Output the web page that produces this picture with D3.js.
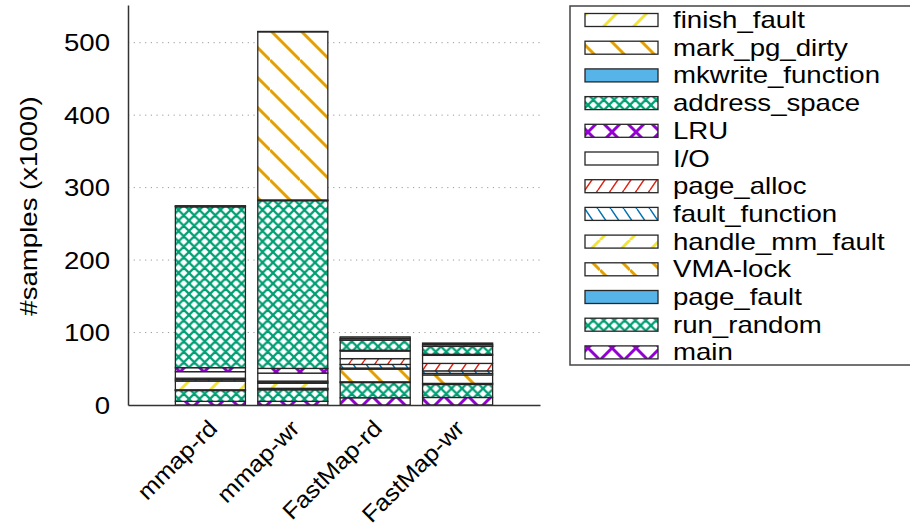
<!DOCTYPE html>
<html>
<head>
<meta charset="utf-8">
<script src="https://cdn.jsdelivr.net/npm/d3@7"></script>
<style>
  html, body { margin: 0; padding: 0; background: #fff; }
  svg { display: block; font-family: "Liberation Sans", Arial, Helvetica, sans-serif; }
</style>
</head>
<body>
<svg id="chart" width="910" height="532"></svg>
<script>
// Workloads on the x axis
const categories = ["mmap-rd", "mmap-wr", "FastMap-rd", "FastMap-wr"];

// Samples (x1000) per kernel path, stacked bottom to top
const main            = [5,    5,     10,   10.4];
const run_random      = [15,   16,    21,   18];
const page_fault      = [0.5,  1,     1,    1.4];
const vma_lock        = [0.5,  1,     17.5, 11.7];
const handle_mm_fault = [12,   7,     1.5,  2.1];
const fault_function  = [2,    1.5,   5,    3.5];
const page_alloc      = [2,    1.5,   8,    10.3];
const io              = [9,    11,    10.5, 11.1];
const lru             = [5.5,  6.5,   1,    1.4];
const address_space   = [222,  231.5, 14,   11];
const mkwrite_function= [1,    1,     0.5,  0.7];
const mark_pg_dirty   = [0,    232,   2,    2.1];
const finish_fault    = [0.5,  0.5,   2,    1.8];

const seriesNames = ["main", "run_random", "page_fault", "VMA-lock", "handle_mm_fault",
  "fault_function", "page_alloc", "I/O", "LRU", "address_space",
  "mkwrite_function", "mark_pg_dirty", "finish_fault"];
const seriesValues = [main, run_random, page_fault, vma_lock, handle_mm_fault,
  fault_function, page_alloc, io, lru, address_space,
  mkwrite_function, mark_pg_dirty, finish_fault];

const yTicks = [0, 100, 200, 300, 400, 500];

// Fill style for each series: pattern kind + colour
const styles = {
  "main":            {kind: "xsparse", color: "#9400d3"},
  "run_random":      {kind: "xdense",  color: "#009e73"},
  "page_fault":      {kind: "solid",   color: "#56b4e9"},
  "VMA-lock":        {kind: "bsparse", color: "#e69f00"},
  "handle_mm_fault": {kind: "fsparse", color: "#f0e442"},
  "fault_function":  {kind: "bdense",  color: "#0072b2"},
  "page_alloc":      {kind: "fdense",  color: "#e51e10"},
  "I/O":             {kind: "empty",   color: "#000000"},
  "LRU":             {kind: "xsparse", color: "#9400d3"},
  "address_space":   {kind: "xdense",  color: "#009e73"},
  "mkwrite_function":{kind: "solid",   color: "#56b4e9"},
  "mark_pg_dirty":   {kind: "bsparse", color: "#e69f00"},
  "finish_fault":    {kind: "fsparse", color: "#f0e442"}
};

const svg = d3.select("#chart");
const FONT = 23, SX = 1.2, SX_CAT = 1.1;

// Scales
const x = d3.scaleLinear().domain([-1, 4]).range([128, 540]);
const y = d3.scaleLinear().domain([0, 552]).range([405, 5]);
const barW = 0.85 * (x(1) - x(0));

// Patterns
const defs = svg.append("defs");
function addPattern(id, kind, color) {
  if (kind === "solid" || kind === "empty") return;
  let w, h, sw, paths;
  if (kind === "fsparse" || kind === "bsparse") { w = 30; h = 30; sw = 3; }
  if (kind === "fdense" || kind === "bdense")   { w = 13; h = 19; sw = 1.5; }
  if (kind === "xdense")  { w = 10.5; h = 10.5; sw = 2.2; }
  if (kind === "xsparse") { w = 24; h = 24; sw = 3; }
  const fwd  = `M${-w},${h}L0,0M0,${h}L${w},0M${w},${h}L${2*w},0`;
  const back = `M0,${-h}L${w},0M0,0L${w},${h}M0,${h}L${w},${2*h}`;
  if (kind[0] === "f") paths = fwd;
  else if (kind[0] === "b") paths = back;
  else paths = fwd + back;
  const p = defs.append("pattern").attr("id", id)
    .attr("patternUnits", "userSpaceOnUse").attr("width", w).attr("height", h);
  p.append("rect").attr("width", w).attr("height", h).attr("fill", "#fff");
  p.append("path").attr("d", paths).attr("stroke", color)
    .attr("stroke-width", sw).attr("fill", "none");
}
function fillFor(name) {
  const s = styles[name];
  if (s.kind === "solid") return s.color;
  if (s.kind === "empty") return "#fff";
  return `url(#pat-${seriesNames.indexOf(name)})`;
}
seriesNames.forEach((n, i) => addPattern(`pat-${i}`, styles[n].kind, styles[n].color));

// Grid lines
svg.append("g").selectAll("line").data(yTicks.filter(t => t > 0)).join("line")
  .attr("x1", x(-1)).attr("x2", x(4))
  .attr("y1", d => y(d)).attr("y2", d => y(d))
  .attr("stroke", "#9a9a9a").attr("stroke-width", 1)
  .attr("stroke-dasharray", "1.2,4.5");

// Stacked bars
const rows = categories.map((c, i) => {
  const r = {cat: c, idx: i};
  seriesNames.forEach((n, k) => r[n] = seriesValues[k][i]);
  return r;
});
const stacked = d3.stack().keys(seriesNames)(rows);
const barsG = svg.append("g");
stacked.forEach(layer => {
  barsG.append("g").selectAll("rect").data(layer).join("rect")
    .attr("x", d => x(d.data.idx) - barW / 2)
    .attr("width", barW)
    .attr("y", d => y(d[1]))
    .attr("height", d => Math.max(0, y(d[0]) - y(d[1])))
    .attr("fill", fillFor(layer.key))
    .attr("stroke", "#262626").attr("stroke-width", 1.3);
});

// Y axis
const yAxis = svg.append("g").attr("transform", `translate(${x(-1)},0)`)
  .call(d3.axisLeft(y).tickValues(yTicks).tickSize(0).tickSizeOuter(0).tickFormat(d3.format("d")));
yAxis.select(".domain").attr("stroke", "#333").attr("stroke-width", 1.5);
yAxis.selectAll(".tick text")
  .attr("x", 0).attr("dy", "0.35em")
  .attr("transform", `translate(-18,0) scale(${SX},1)`)
  .style("font-size", FONT + "px").style("font-family", "Liberation Sans, Arial, sans-serif")
  .attr("fill", "#000");

// X axis
const xAxis = svg.append("g").attr("transform", `translate(0,${y(0)})`)
  .call(d3.axisBottom(x).tickValues([0, 1, 2, 3]).tickSize(0).tickSizeOuter(0)
    .tickFormat(i => categories[i]));
xAxis.select(".domain").attr("stroke", "#333").attr("stroke-width", 1.5);
xAxis.selectAll(".tick text")
  .attr("x", 0).attr("y", 0).attr("dy", "0.35em")
  .attr("text-anchor", "end")
  .attr("transform", `translate(2,19) rotate(-45) scale(${SX_CAT},1)`)
  .style("font-size", FONT + "px").style("font-family", "Liberation Sans, Arial, sans-serif")
  .attr("fill", "#000");

// Y axis title
svg.append("text")
  .attr("transform", `translate(37,206) rotate(-90) scale(${SX},1)`)
  .attr("text-anchor", "middle")
  .style("font-size", FONT + "px")
  .text("#samples (x1000)");

// Legend (top series first)
const legendNames = seriesNames.slice().reverse();
const lg = svg.append("g");
lg.append("rect").attr("x", 570).attr("y", 6).attr("width", 360).attr("height", 359)
  .attr("fill", "#fff").attr("stroke", "#444").attr("stroke-width", 1.5);
const rowH = 27.7;
legendNames.forEach((n, i) => {
  const cy = 20 + i * rowH;
  lg.append("rect").attr("x", 585).attr("y", cy - 6.5).attr("width", 73).attr("height", 13)
    .attr("fill", fillFor(n)).attr("stroke", "#262626").attr("stroke-width", 1.3);
  lg.append("text")
    .attr("transform", `translate(673,${cy + 8}) scale(${SX},1)`)
    .style("font-size", FONT + "px")
    .text(n);
});
</script>
</body>
</html>
